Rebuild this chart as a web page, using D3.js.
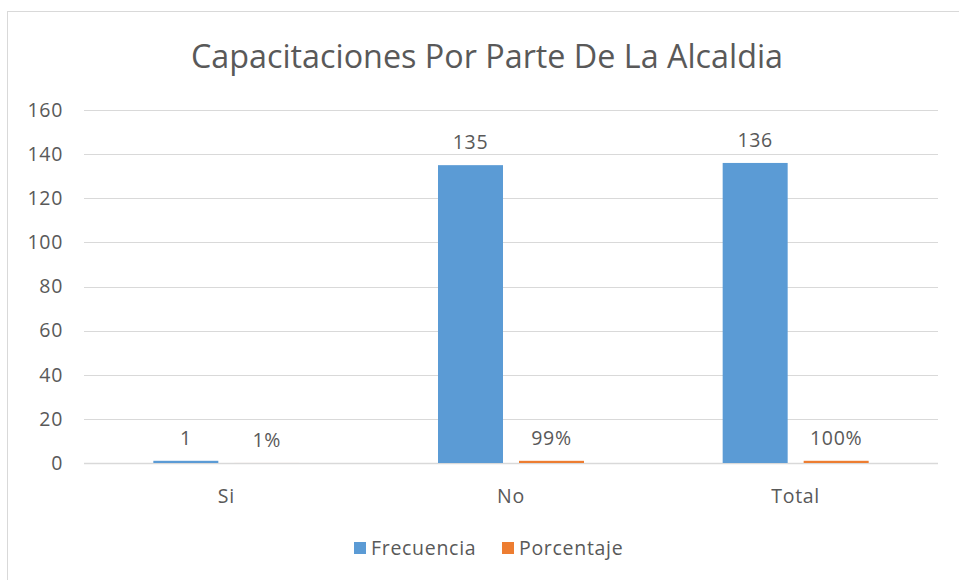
<!DOCTYPE html>
<html lang="es">
<head>
  <meta charset="utf-8" />
  <style>
    body { margin: 0; background: #fff; }
    text { font-family: "Open Sans", "Liberation Sans", sans-serif; fill: #595959; }
    text.small { letter-spacing: 0.7px; }
  </style>
</head>
<body>
  <div id="chart"></div>
  <script src="https://cdnjs.cloudflare.com/ajax/libs/d3/7.8.5/d3.min.js"></script>
  <script>
    const categories = ["Si", "No", "Total"];
    const frecuencia = [1, 135, 136];
    const porcentaje = [0.01, 0.99, 1.00];
    const porcentajeLabels = ["1%", "99%", "100%"];
    const yTicks = [0, 20, 40, 60, 80, 100, 120, 140, 160];
    const seriesNames = ["Frecuencia", "Porcentaje"];
    const colors = ["#5B9BD5", "#ED7D31"];

    const width = 959, height = 580;
    const margin = { left: 84, right: 21, top: 110, bottom: 117 };
    const fs = 19.5;

    const svg = d3.select("#chart").append("svg")
      .attr("width", width)
      .attr("height", height);

    // chart frame
    svg.append("rect")
      .attr("x", 7.5).attr("y", 11.5)
      .attr("width", 980).attr("height", 600)
      .attr("fill", "none")
      .attr("stroke", "#D9D9D9");

    const x = d3.scaleBand()
      .domain(categories)
      .range([margin.left, width - margin.right]);

    const y = d3.scaleLinear()
      .domain([0, 160])
      .range([height - margin.bottom, margin.top]);

    // gridlines
    svg.selectAll("line.grid")
      .data(yTicks)
      .join("line")
      .attr("class", "grid")
      .attr("x1", margin.left)
      .attr("x2", width - margin.right)
      .attr("y1", d => Math.round(y(d)) + 0.5)
      .attr("y2", d => Math.round(y(d)) + 0.5)
      .attr("stroke", "#D9D9D9")
      .attr("stroke-width", d => d === 0 ? 1.5 : 1);

    // y tick labels
    svg.selectAll("text.ytick")
      .data(yTicks)
      .join("text")
      .attr("class", "ytick small")
      .attr("x", 63)
      .attr("y", d => y(d))
      .attr("dy", "0.35em")
      .attr("text-anchor", "end")
      .attr("font-size", fs)
      .text(d => d);

    // x labels
    svg.selectAll("text.xlab")
      .data(categories)
      .join("text")
      .attr("class", "xlab small")
      .attr("x", d => x(d) + x.bandwidth() / 2)
      .attr("y", 496)
      .attr("dy", "0.35em")
      .attr("text-anchor", "middle")
      .attr("font-size", fs)
      .text(d => d);

    const barW = 65, gap = 8;
    const series = [frecuencia, porcentaje];
    const offsets = [-gap - barW, gap];

    series.forEach((vals, s) => {
      svg.selectAll("rect.bar" + s)
        .data(categories)
        .join("rect")
        .attr("class", "bar" + s)
        .attr("x", (d, i) => x(d) + x.bandwidth() / 2 + offsets[s])
        .attr("width", barW)
        .attr("y", (d, i) => y(vals[i]))
        .attr("height", (d, i) => y(0) - y(vals[i]))
        .attr("fill", colors[s]);
    });

    // value labels
    svg.selectAll("text.lab0")
      .data(categories)
      .join("text")
      .attr("class", "lab0 small")
      .attr("x", d => x(d) + x.bandwidth() / 2 + offsets[0] + barW / 2)
      .attr("y", (d, i) => y(frecuencia[i]) - 23)
      .attr("dy", "0.35em")
      .attr("text-anchor", "middle")
      .attr("font-size", fs)
      .text((d, i) => frecuencia[i]);

    svg.selectAll("text.lab1")
      .data(categories)
      .join("text")
      .attr("class", "lab1 small")
      .attr("x", d => x(d) + x.bandwidth() / 2 + offsets[1] + barW / 2)
      .attr("y", (d, i) => y(porcentaje[i]) - 23)
      .attr("dy", "0.35em")
      .attr("text-anchor", "middle")
      .attr("font-size", fs)
      .text((d, i) => porcentajeLabels[i]);

    // title
    svg.append("text")
      .attr("x", 487)
      .attr("y", 57)
      .attr("dy", "0.35em")
      .attr("text-anchor", "middle")
      .attr("font-size", 32.3)
      .text("Capacitaciones Por Parte De La Alcaldia");

    // legend
    const legendX = [354, 502];
    seriesNames.forEach((name, i) => {
      svg.append("rect")
        .attr("x", legendX[i]).attr("y", 542)
        .attr("width", 12).attr("height", 12)
        .attr("fill", colors[i]);
      svg.append("text")
        .attr("class", "small")
        .attr("x", legendX[i] + 17)
        .attr("y", 548)
        .attr("dy", "0.35em")
        .attr("font-size", fs)
        .text(name);
    });
  </script>
</body>
</html>
